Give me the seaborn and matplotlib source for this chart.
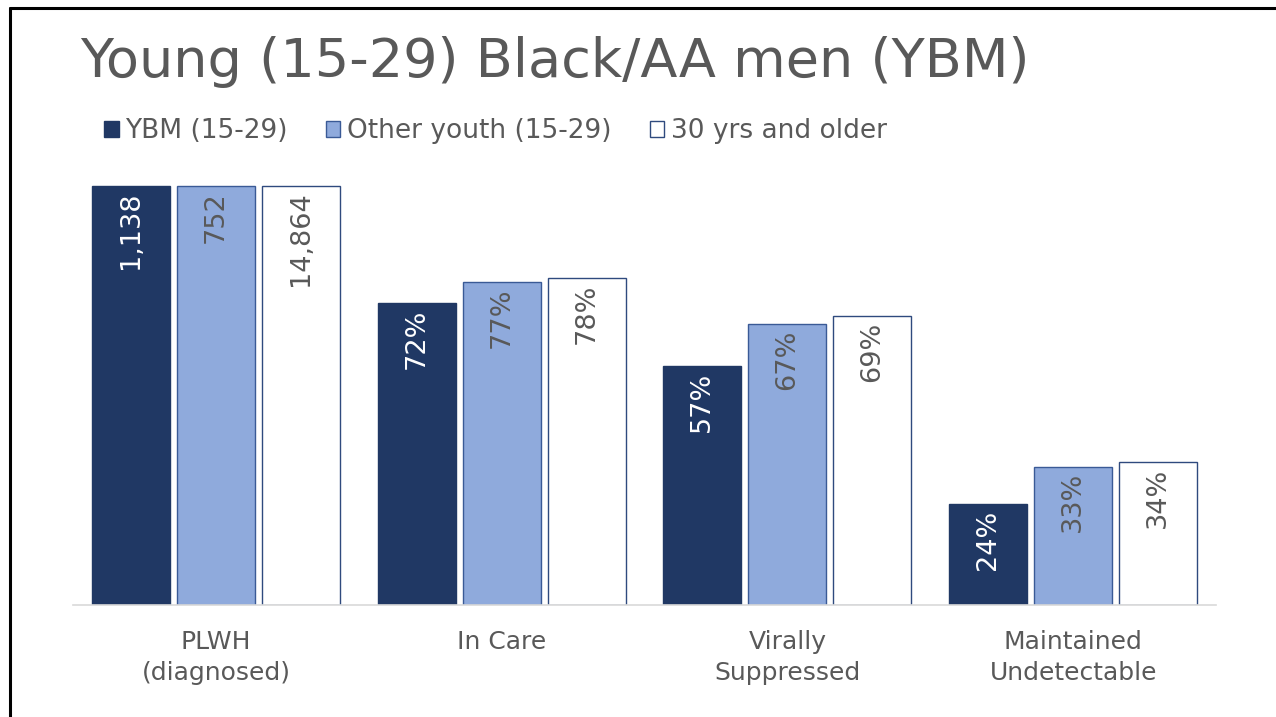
import numpy as np
import pandas as pd
import matplotlib
matplotlib.use("Agg")
import matplotlib.pyplot as plt
from matplotlib.lines import Line2D
from matplotlib.patches import Patch
import seaborn as sns

# ─── данные ──────────────────────────────────────────────────────────────────
stages = ["PLWH\n(diagnosed)", "In Care", "Virally\nSuppressed", "Maintained\nUndetectable"]
groups = ["YBM (15-29)", "Other youth (15-29)", "30 yrs and older"]

ybm_pct = [100, 72, 57, 24]
other_pct = [100, 77, 67, 33]
older_pct = [100, 78, 69, 34]

ybm_labels = ["1,138", "72%", "57%", "24%"]
other_labels = ["752", "77%", "67%", "33%"]
older_labels = ["14,864", "78%", "69%", "34%"]

fill_colors = ["#203864", "#8FAADC", "#FFFFFF"]
edge_colors = ["#203864", "#3A5A96", "#2F4A7E"]
label_colors = ["#FFFFFF", "#595959", "#595959"]
TEXT = "#595959"

df = pd.DataFrame({
    "stage": stages * 3,
    "group": [g for g in groups for _ in stages],
    "value": ybm_pct + other_pct + older_pct,
})
labels = [ybm_labels, other_labels, older_labels]

sns.set_theme(style="white")
plt.rcParams["font.family"] = ["DejaVu Sans"]

fig = plt.figure(figsize=(12.76, 7.17), dpi=100)
ax = fig.add_axes([73 / 1276, 112 / 717, 1143 / 1276, 425 / 717])

sns.barplot(data=df, x="stage", y="value", hue="group", hue_order=groups,
            order=stages, palette=fill_colors, saturation=1, width=0.892, gap=0.08,
            ax=ax, legend=False, linewidth=1.0)

for cont, ec, lab, lc in zip(ax.containers, edge_colors, labels, label_colors):
    for bar in cont:
        bar.set_edgecolor(ec)
    texts = ax.bar_label(cont, labels=lab, padding=-4, rotation=90,
                         fontsize=19.5, color=lc)
    for t in texts:
        t.set_va("top")

ax.set_ylim(0, 101.4)
ax.set_xlim(-0.5, 3.5)
ax.set_xlabel("")
ax.set_ylabel("")
ax.set_yticks([])
ax.tick_params(axis="x", length=0, labelsize=18, labelcolor=TEXT, pad=18)
for t in ax.get_xticklabels():
    t.set_linespacing(1.35)
for side in ["top", "right", "left"]:
    ax.spines[side].set_visible(False)
ax.spines["bottom"].set_color("#D9D9D9")
ax.spines["bottom"].set_linewidth(1.2)

fig.text(80 / 1276, 1 - 62 / 717, "Young (15-29) Black/AA men (YBM)",
         fontsize=39, color=TEXT, va="center", ha="left")

handles = [Patch(facecolor=fc, edgecolor=ec, linewidth=1.0)
           for fc, ec in zip(fill_colors, edge_colors)]
fig.legend(handles, groups, loc="center left", bbox_to_anchor=(104 / 1276, 1 - 131 / 717),
           ncol=3, frameon=False, fontsize=19, labelcolor=TEXT,
           handlelength=0.55, handleheight=0.55, handletextpad=0.25,
           columnspacing=1.45, borderaxespad=0, borderpad=0)

# рамка слайда
fig.add_artist(Line2D([10 / 1276, 10 / 1276], [0, 1 - 8 / 717], color="black",
                      linewidth=2.2, transform=fig.transFigure))
fig.add_artist(Line2D([10 / 1276, 1], [1 - 8 / 717, 1 - 8 / 717], color="black",
                      linewidth=2.2, transform=fig.transFigure))

fig.savefig("out.png", dpi=100, facecolor="white")
